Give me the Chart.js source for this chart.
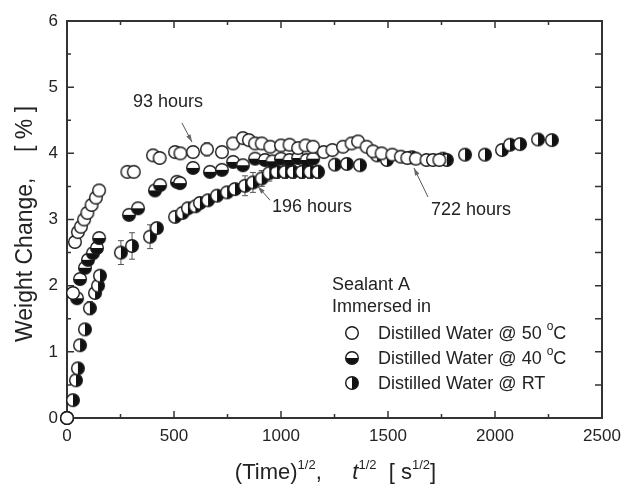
<!DOCTYPE html>
<html>
<head>
<meta charset="utf-8">
<script src="https://cdn.jsdelivr.net/npm/chart.js@4.4.0/dist/chart.umd.min.js"></script>
<style>
html, body { margin: 0; padding: 0; background: #fff; }
#wrap { width: 622px; height: 485px; position: relative; }
</style>
</head>
<body>
<div id="wrap"><canvas id="myChart"></canvas></div>
<script>
// x: square root of immersion time [s^1/2], y: weight change [%], e: error bar half-height
const x50 = [0, 28, 37, 51, 65, 80, 95, 115, 135, 150, 282, 312, 402, 433, 505, 530, 589, 654, 724, 776,
  822, 850, 879, 910, 950, 1000, 1040, 1080, 1115, 1150, 1200, 1240, 1290, 1330, 1360, 1400, 1430, 1470, 1520, 1560,
  1590, 1630, 1680, 1710, 1740];
const y50 = [0, 1.89, 2.66, 2.81, 2.89, 3.0, 3.1, 3.22, 3.33, 3.44, 3.72, 3.72, 3.97, 3.93, 4.02, 4.0, 4.02, 4.06, 4.02, 4.15,
  4.23, 4.2, 4.15, 4.15, 4.1, 4.12, 4.13, 4.08, 4.12, 4.1, 4.02, 4.05, 4.1, 4.15, 4.18, 4.1, 4.03, 4.0, 3.98, 3.95,
  3.93, 3.92, 3.9, 3.9, 3.9];
const e50 = [0, 0, 0, 0, 0, 0, 0, 0, 0, 0, 0, 0, 0, 0, 0, 0, 0, 0.1, 0, 0,
  0, 0, 0, 0, 0, 0, 0, 0, 0, 0, 0, 0, 0, 0, 0, 0, 0, 0, 0, 0,
  0.08, 0.08, 0, 0, 0];

const x40 = [0, 47, 61, 84, 98, 121, 140, 150, 290, 332, 411, 435, 514, 528, 589, 668, 724, 776, 822, 879,
  925, 960, 1000, 1040, 1080, 1120, 1150];
const y40 = [0, 1.81, 2.1, 2.27, 2.39, 2.49, 2.57, 2.72, 3.07, 3.17, 3.44, 3.52, 3.57, 3.55, 3.78, 3.72, 3.75, 3.87, 3.82, 3.92,
  3.9, 3.88, 3.92, 3.9, 3.93, 3.9, 3.92];
const e40 = [0, 0, 0, 0, 0, 0, 0, 0, 0, 0, 0, 0, 0, 0, 0, 0, 0, 0, 0, 0,
  0, 0, 0, 0, 0, 0, 0];

const xRT = [0, 28, 42, 51, 61, 84, 107, 131, 145, 154, 252, 304, 388, 420, 505, 540, 565, 600, 621, 659,
  701, 748, 785, 832, 869, 910, 945, 981, 1019, 1056, 1098, 1136, 1173, 1252, 1308, 1369, 1449, 1495, 1612, 1757,
  1775, 1860, 1953, 2033, 2070, 2117, 2201, 2266];
const yRT = [0, 0.27, 0.57, 0.75, 1.1, 1.34, 1.66, 1.89, 2.0, 2.15, 2.5, 2.6, 2.74, 2.87, 3.04, 3.1, 3.17, 3.2, 3.25, 3.29,
  3.36, 3.41, 3.46, 3.51, 3.56, 3.62, 3.7, 3.72, 3.72, 3.72, 3.72, 3.72, 3.72, 3.83, 3.84, 3.82, 3.97, 3.9, 3.94, 3.92,
  3.9, 3.98, 3.98, 4.05, 4.13, 4.14, 4.21, 4.2];
const eRT = [0, 0, 0, 0, 0, 0, 0.1, 0, 0, 0, 0.18, 0.2, 0.18, 0, 0, 0, 0, 0, 0, 0,
  0, 0, 0, 0.15, 0.15, 0.12, 0.12, 0.1, 0.1, 0.1, 0.1, 0.1, 0.1, 0.08, 0.08, 0.08, 0, 0, 0.08, 0,
  0, 0, 0, 0, 0, 0, 0, 0];

const xTicks = [0, 500, 1000, 1500, 2000, 2500];
const yTicks = [0, 1, 2, 3, 4, 5, 6];

// labelled times: text anchor, arrow tail and arrow tip in data units
const notes = [
  { text: '93 hours', tx: 472, ty: 4.77, ax: 537, ay: 4.46, bx: 584, by: 4.17 },
  { text: '196 hours', tx: 1145, ty: 3.19, ax: 949, ay: 3.29, bx: 892, by: 3.5 },
  { text: '722 hours', tx: 1888, ty: 3.14, ax: 1687, ay: 3.34, bx: 1621, by: 3.78 }
];

const FONT = '"Liberation Sans", Arial, sans-serif';
const INK = '#232323';

// open / top-open / left-open circle symbols
function marker(kind) {
  const c = document.createElement('canvas');
  c.width = 16; c.height = 16;
  const g = c.getContext('2d');
  const r = 6.3;
  g.beginPath(); g.arc(8, 8, r, 0, Math.PI * 2); g.fillStyle = '#fff'; g.fill();
  g.fillStyle = '#111';
  if (kind === 'bottom') {
    g.beginPath(); g.arc(8, 8, r, 0, Math.PI); g.closePath(); g.fill();
  } else if (kind === 'right') {
    g.beginPath(); g.arc(8, 8, r, -Math.PI / 2, Math.PI / 2); g.closePath(); g.fill();
  }
  g.beginPath(); g.arc(8, 8, r, 0, Math.PI * 2);
  g.lineWidth = 1.4; g.strokeStyle = '#1a1a1a'; g.stroke();
  return c;
}

const series = [
  { label: ['Distilled Water @ 50 ', 'o', 'C'], xs: x50, ys: y50, es: e50, sym: marker('open') },
  { label: ['Distilled Water @ 40 ', 'o', 'C'], xs: x40, ys: y40, es: e40, sym: marker('bottom') },
  { label: ['Distilled Water @ RT'], xs: xRT, ys: yRT, es: eRT, sym: marker('right') }
];

function drawParts(ctx, parts, x, y, center) {
  let w = 0;
  parts.forEach(p => { ctx.font = p[1]; w += ctx.measureText(p[0]).width; });
  let cx = center ? x - w / 2 : x;
  parts.forEach(p => {
    ctx.font = p[1];
    ctx.fillText(p[0], cx, y - (p[2] || 0));
    cx += ctx.measureText(p[0]).width;
  });
}

const decor = {
  id: 'decor',
  beforeDatasetsDraw(chart) {
    const { ctx, chartArea: a, scales: { x, y } } = chart;
    ctx.save();
    ctx.strokeStyle = '#333';
    ctx.lineWidth = 2;
    ctx.strokeRect(a.left, a.top, a.right - a.left, a.bottom - a.top);
    ctx.lineWidth = 1.5;
    ctx.beginPath();
    for (let v = 0; v <= 2500; v += 250) {
      const px = x.getPixelForValue(v);
      const len = v % 500 === 0 ? 7 : 4;
      ctx.moveTo(px, a.bottom); ctx.lineTo(px, a.bottom - len);
      ctx.moveTo(px, a.top); ctx.lineTo(px, a.top + len);
    }
    for (let v = 0; v <= 6; v += 0.5) {
      const py = y.getPixelForValue(v);
      const len = v % 1 === 0 ? 7 : 4;
      ctx.moveTo(a.left, py); ctx.lineTo(a.left + len, py);
      ctx.moveTo(a.right, py); ctx.lineTo(a.right - 7, py);
    }
    ctx.stroke();

    // error bars
    ctx.strokeStyle = '#555';
    ctx.lineWidth = 1;
    ctx.beginPath();
    series.forEach(s => {
      s.es.forEach((e, i) => {
        if (!e) return;
        const px = x.getPixelForValue(s.xs[i]);
        const top = y.getPixelForValue(s.ys[i] + e);
        const bot = y.getPixelForValue(s.ys[i] - e);
        ctx.moveTo(px, top); ctx.lineTo(px, bot);
        ctx.moveTo(px - 3, top); ctx.lineTo(px + 3, top);
        ctx.moveTo(px - 3, bot); ctx.lineTo(px + 3, bot);
      });
    });
    ctx.stroke();
    ctx.restore();
  },
  afterDraw(chart) {
    const { ctx, chartArea: a, scales: { x, y } } = chart;
    ctx.save();
    ctx.fillStyle = INK;
    ctx.strokeStyle = '#555';
    ctx.textBaseline = 'middle';
    ctx.textAlign = 'center';

    // arrows with time labels
    notes.forEach(n => {
      ctx.font = '18px ' + FONT;
      ctx.fillText(n.text, x.getPixelForValue(n.tx), y.getPixelForValue(n.ty));
      const x1 = x.getPixelForValue(n.ax), y1 = y.getPixelForValue(n.ay);
      const x2 = x.getPixelForValue(n.bx), y2 = y.getPixelForValue(n.by);
      const ang = Math.atan2(y2 - y1, x2 - x1);
      ctx.lineWidth = 1;
      ctx.beginPath(); ctx.moveTo(x1, y1); ctx.lineTo(x2, y2); ctx.stroke();
      ctx.beginPath();
      ctx.moveTo(x2, y2);
      ctx.lineTo(x2 - 8 * Math.cos(ang - 0.3), y2 - 8 * Math.sin(ang - 0.3));
      ctx.lineTo(x2 - 8 * Math.cos(ang + 0.3), y2 - 8 * Math.sin(ang + 0.3));
      ctx.closePath();
      ctx.fillStyle = '#666'; ctx.fill();
      ctx.fillStyle = INK;
    });

    // legend block
    ctx.textAlign = 'left';
    const lx = a.left + 265;
    ctx.font = '18px ' + FONT;
    ctx.fillText('Sealant A', lx, a.bottom - 133);
    ctx.fillText('Immersed in', lx, a.bottom - 111);
    ctx.textBaseline = 'alphabetic';
    series.forEach((s, i) => {
      const ry = a.bottom - 85 + i * 25;
      ctx.drawImage(s.sym, lx + 12, ry - 8);
      const parts = s.label.map((t, k) => k === 1 ? [t, '12px ' + FONT, 9] : [t, '18px ' + FONT]);
      drawParts(ctx, parts, lx + 46, ry + 6, false);
    });

    // axis titles
    const F = '22px ' + FONT, S = '13px ' + FONT, I = 'italic 22px ' + FONT;
    drawParts(ctx, [['(Time)', F], ['1/2', S, 10], [',     ', F], ['t', I], ['1/2', S, 10],
      ['  [ s', F], ['1/2', S, 10], [']', F]], (a.left + a.right) / 2 + 1, 479, true);

    ctx.translate(32, 224);
    ctx.rotate(-Math.PI / 2);
    ctx.textAlign = 'center';
    ctx.font = '23px ' + FONT;
    ctx.fillText('Weight Change,    [ % ]', 0, 0);
    ctx.restore();
  }
};

const ctx = document.getElementById('myChart');
new Chart(ctx, {
  type: 'scatter',
  data: {
    datasets: series.map(s => ({
      label: s.label.join(''),
      data: s.xs.map((v, i) => ({ x: v, y: s.ys[i] })),
      pointStyle: s.sym,
      pointRadius: 6,
      clip: false
    }))
  },
  options: {
    responsive: true,
    maintainAspectRatio: false,
    animation: false,
    events: [],
    layout: { padding: { top: 21, right: 20, left: 0, bottom: 0 } },
    plugins: { legend: { display: false }, tooltip: { enabled: false } },
    scales: {
      x: {
        type: 'linear', min: 0, max: 2500,
        afterBuildTicks: s => { s.ticks = xTicks.map(v => ({ value: v })); },
        afterFit: s => { s.height = 67; s.paddingLeft = 0; s.paddingRight = 0; },
        grid: { display: false, drawTicks: false },
        border: { display: false },
        ticks: { color: INK, font: { size: 17, family: FONT }, padding: 8, maxRotation: 0, callback: v => String(v) }
      },
      y: {
        type: 'linear', min: 0, max: 6,
        afterBuildTicks: s => { s.ticks = yTicks.map(v => ({ value: v })); },
        afterFit: s => { s.width = 67; s.paddingTop = 0; s.paddingBottom = 0; },
        grid: { display: false, drawTicks: false },
        border: { display: false },
        ticks: { color: INK, font: { size: 17, family: FONT }, padding: 9, callback: v => String(v) }
      }
    }
  },
  plugins: [decor]
});
</script>
</body>
</html>
